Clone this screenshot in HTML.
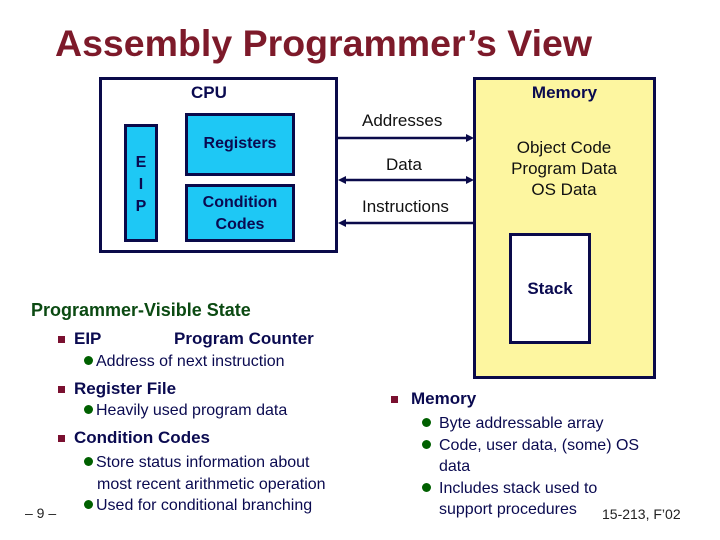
<!DOCTYPE html>
<html><head><style>
body{margin:0;width:720px;height:540px;background:#fff;position:relative;overflow:hidden;font-family:"Liberation Sans",Arial,sans-serif;color:#0a0a50}
.a{position:absolute;white-space:nowrap}
.b{font-weight:bold}
.box{position:absolute;border:3px solid #0a0a4a;box-sizing:border-box}
.blue{background:#1ec8f5}
.sq{display:inline-block;width:7px;height:7px;background:#7a1030;margin-right:9px;vertical-align:middle}
.dot{display:inline-block;width:9px;height:9px;border-radius:50%;background:#006000;margin-right:3px;vertical-align:1px}
</style></head><body>
<div class="a b" style="left:55px;top:22px;font-size:37.5px;color:#7d1a2a">Assembly Programmer’s View</div>

<div class="box" style="left:99px;top:77px;width:239px;height:176px"></div>
<div class="a b" style="left:191px;top:83px;font-size:17px">CPU</div>
<div class="box blue" style="left:124px;top:124px;width:34px;height:118px"></div>
<div class="a b" style="left:124px;top:152px;width:34px;text-align:center;font-size:16px;line-height:22px;white-space:normal">E<br>I<br>P</div>
<div class="box blue" style="left:185px;top:113px;width:110px;height:63px"></div>
<div class="a b" style="left:185px;top:135px;width:110px;text-align:center;font-size:16px">Registers</div>
<div class="box blue" style="left:185px;top:184px;width:110px;height:58px"></div>
<div class="a b" style="left:185px;top:192px;width:110px;text-align:center;font-size:16px;line-height:22px">Condition<br>Codes</div>

<div class="box" style="left:473px;top:77px;width:183px;height:302px;background:#fdf6a0"></div>
<div class="a b" style="left:473px;top:83px;width:183px;text-align:center;font-size:17px">Memory</div>
<div class="a" style="left:478px;top:137px;width:172px;text-align:center;font-size:17px;line-height:21px;color:#111">Object Code<br>Program Data<br>OS Data</div>
<div class="box" style="left:509px;top:233px;width:82px;height:111px;background:#fff"></div>
<div class="a b" style="left:509px;top:279px;width:82px;text-align:center;font-size:17px">Stack</div>

<svg class="a" style="left:0;top:0" width="720" height="540">
<g stroke="#0a0a4a" stroke-width="2.5" fill="#0a0a4a">
<line x1="338" y1="138" x2="468" y2="138"/><polygon points="474,138 466,134 466,142" stroke="none"/>
<line x1="344" y1="180" x2="468" y2="180"/><polygon points="474,180 466,176 466,184" stroke="none"/><polygon points="338,180 346,176 346,184" stroke="none"/>
<line x1="344" y1="223" x2="473" y2="223"/><polygon points="338,223 346,219 346,227" stroke="none"/>
</g></svg>
<div class="a" style="left:362px;top:111px;font-size:17px;color:#111">Addresses</div>
<div class="a" style="left:386px;top:155px;font-size:17px;color:#111">Data</div>
<div class="a" style="left:362px;top:197px;font-size:17px;color:#111">Instructions</div>

<div class="a b" style="left:31px;top:300px;font-size:18px;color:#0b4a12">Programmer-Visible State</div>
<div class="a b" style="left:58px;top:329px;font-size:17px"><span class="sq"></span>EIP<span style="position:absolute;left:116px">Program Counter</span></div>
<div class="a" style="left:84px;top:353px;font-size:16px"><span class="dot"></span>Address of next instruction</div>
<div class="a b" style="left:58px;top:379px;font-size:17px"><span class="sq"></span>Register File</div>
<div class="a" style="left:84px;top:402px;font-size:16px"><span class="dot"></span>Heavily used program data</div>
<div class="a b" style="left:58px;top:428px;font-size:17px"><span class="sq"></span>Condition Codes</div>
<div class="a" style="left:84px;top:452px;font-size:16px;line-height:21.5px"><span class="dot"></span>Store status information about<br><span style="margin-left:13px">most recent arithmetic operation</span><br><span class="dot"></span>Used for conditional branching</div>
<div class="a" style="left:25px;top:505px;font-size:14px;color:#222">– 9 –</div>

<div class="a b" style="left:391px;top:389px;font-size:17px"><span class="sq" style="margin-right:13px"></span>Memory</div>
<div class="a" style="left:422px;top:413px;font-size:16px;line-height:21.5px;white-space:normal;width:260px"><span class="dot" style="margin-right:8px"></span>Byte addressable array<br><span class="dot" style="margin-right:8px"></span>Code, user data, (some) OS<br><span style="margin-left:17px">data</span><br><span class="dot" style="margin-right:8px"></span>Includes stack used to<br><span style="margin-left:17px">support procedures</span></div>
<div class="a" style="left:602px;top:506px;font-size:14px;color:#222">15-213, F’02</div>
</body></html>
